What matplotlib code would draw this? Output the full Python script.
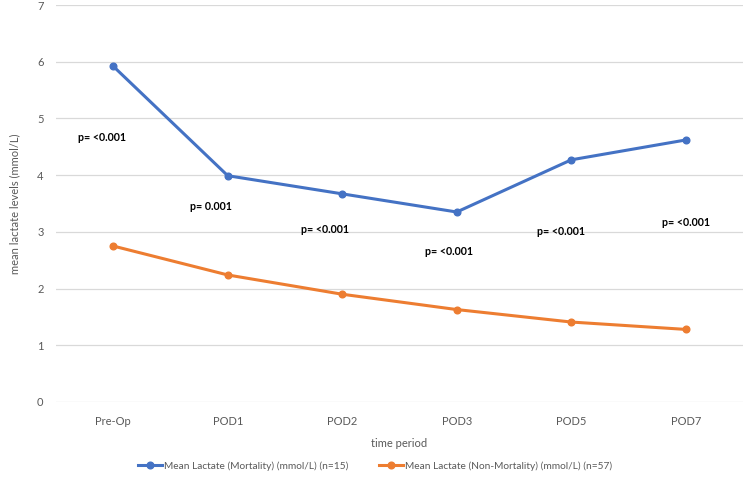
import matplotlib.pyplot as plt
import numpy as np

categories = ["Pre-Op", "POD1", "POD2", "POD3", "POD5", "POD7"]
mortality = [5.92, 3.99, 3.67, 3.35, 4.27, 4.62]
non_mortality = [2.75, 2.24, 1.90, 1.63, 1.41, 1.28]
p_labels = ["p= <0.001", "p= 0.001", "p= <0.001", "p= <0.001", "p= <0.001", "p= <0.001"]
p_x = [-0.10, 0.85, 1.85, 2.93, 3.91, 5.00]
p_y = [4.67, 3.44, 3.05, 2.66, 3.00, 3.16]

plt.rcParams['font.family'] = ['Lato', 'DejaVu Sans']

fig = plt.figure(figsize=(7.5, 4.78), dpi=100)
ax = fig.add_axes([56/750, 1-402/478, 687/750, 397/478])

x = np.arange(len(categories))
l1, = ax.plot(x, mortality, color='#4472C4', lw=2.2, marker='o', ms=4.8,
              label='Mean Lactate (Mortality) (mmol/L) (n=15)')
l2, = ax.plot(x, non_mortality, color='#ED7D31', lw=2.2, marker='o', ms=4.8,
              label='Mean Lactate (Non-Mortality) (mmol/L) (n=57)')

for px, py, t in zip(p_x, p_y, p_labels):
    ax.text(px, py, t, ha='center', va='center', fontsize=7.7, fontweight='bold', color='black')

ax.set_xlim(-0.5, 5.5)
ax.set_ylim(0, 7)
ax.set_yticks(range(0, 8))
ax.set_xticks(x)
ax.set_xticklabels(categories)
ax.grid(axis='y', color='#D9D9D9', lw=0.9)
ax.set_axisbelow(True)
for s in ax.spines.values():
    s.set_visible(False)
ax.tick_params(length=0, labelsize=8, colors='#595959')
ax.tick_params(axis='x', pad=10)
ax.tick_params(axis='y', pad=9)
ax.set_xlabel('time period', fontsize=8, color='#595959', labelpad=8)
ax.set_ylabel('mean lactate levels (mmol/L)', fontsize=8, color='#595959', labelpad=12)

fig.legend(handles=[l1, l2], loc='center', bbox_to_anchor=(0.5, 1-466/478), ncol=2,
           frameon=False, fontsize=7.3, labelcolor='#595959', columnspacing=3,
           handlelength=2.4, handletextpad=0.2)

fig.savefig('out.png', dpi=100)
